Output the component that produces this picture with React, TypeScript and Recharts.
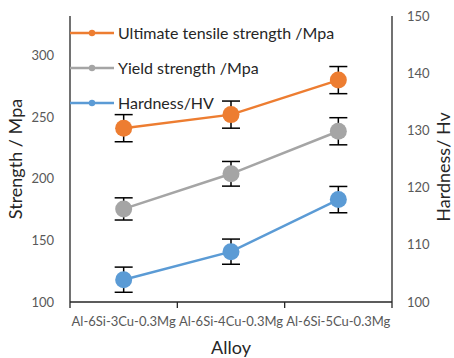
import React from 'react';
import { LineChart, Line, XAxis, YAxis, ErrorBar } from 'recharts';

const alloys = ['Al-6Si-3Cu-0.3Mg', 'Al-6Si-4Cu-0.3Mg', 'Al-6Si-5Cu-0.3Mg'];
const utsValues = [241, 252, 280];
const utsErrors = [11, 11, 11];
const yieldValues = [175.5, 204, 238.5];
const yieldErrors = [9, 10, 11];
const hardnessValues = [103.9, 108.8, 117.9];
const hardnessErrors = [2.2, 2.2, 2.3];

const strengthTicks = [100, 150, 200, 250, 300];
const hardnessTicks = [100, 110, 120, 130, 140, 150];

const seriesNames = ['Ultimate tensile strength /Mpa', 'Yield strength /Mpa', 'Hardness/HV'];
const seriesColors = ['#ED7D31', '#A5A5A5', '#5B9BD5'];

const data = alloys.map((alloy, i) => ({
  alloy,
  uts: utsValues[i],
  utsErr: utsErrors[i],
  ys: yieldValues[i],
  ysErr: yieldErrors[i],
  hv: hardnessValues[i],
  hvErr: hardnessErrors[i],
}));

const FONT = 'Lato, "Open Sans", sans-serif';
const AXIS = '#262626';
const TICK = '#595959';
const CAT_TICK_MARGIN = 15;

const tickStyle = { fontSize: 13, fill: TICK, fontFamily: FONT };

function CategoryTick(props: any) {
  const { x, y, payload, index, visibleTicksCount } = props;
  const axisY = y - CAT_TICK_MARGIN;
  const half = payload && typeof payload.offset === 'number' ? payload.offset : 0;
  const isLast = index === visibleTicksCount - 1;
  return (
    <g>
      <line x1={x - half} x2={x - half} y1={axisY} y2={axisY + 6} stroke={AXIS} strokeWidth={1.3} />
      {isLast && <line x1={x + half} x2={x + half} y1={axisY} y2={axisY + 6} stroke={AXIS} strokeWidth={1.3} />}
      <text x={x} y={y} dy="0.71em" textAnchor="middle" fontSize={13} fill={TICK} fontFamily={FONT}>
        {payload.value}
      </text>
    </g>
  );
}

export default function App() {
  return (
    <div style={{ position: 'absolute', left: 0, top: 0, width: 454, height: 358, background: '#fff' }}>
      <LineChart width={454} height={358} data={data} margin={{ top: 16, right: 0, bottom: 0, left: 10 }}>
        <XAxis
          xAxisId="cat"
          dataKey="alloy"
          scale="band"
          interval={0}
          height={56}
          axisLine={{ stroke: AXIS, strokeWidth: 1.3 }}
          tickLine={false}
          tickSize={0}
          tickMargin={CAT_TICK_MARGIN}
          tick={CategoryTick}
          label={{ value: 'Alloy', position: 'insideBottom', offset: 4, fontSize: 18, fill: AXIS, fontFamily: FONT }}
        />
        <XAxis
          xAxisId="top"
          orientation="top"
          type="number"
          domain={[0, 1]}
          height={0}
          tick={false}
          tickLine={false}
          axisLine={{ stroke: AXIS, strokeWidth: 1.3 }}
          allowDataOverflow
        />
        <YAxis
          yAxisId="left"
          width={60}
          domain={[100, 332]}
          ticks={strengthTicks}
          allowDataOverflow
          tickLine={false}
          tickSize={0}
          tickMargin={16}
          tick={tickStyle}
          axisLine={{ stroke: AXIS, strokeWidth: 1.3 }}
          label={{ value: 'Strength / Mpa', angle: -90, position: 'center', dx: -24, fontSize: 18, fill: AXIS, fontFamily: FONT }}
        />
        <YAxis
          yAxisId="right"
          orientation="right"
          width={62}
          domain={[100, 150]}
          ticks={hardnessTicks}
          allowDataOverflow
          tickLine={false}
          tickSize={0}
          tickMargin={15}
          tick={tickStyle}
          axisLine={{ stroke: AXIS, strokeWidth: 1.3 }}
          label={{ value: 'Hardness/ Hv', angle: -90, position: 'center', dx: 21, dy: 8, fontSize: 18, fill: AXIS, fontFamily: FONT }}
        />
        <Line
          xAxisId="cat"
          yAxisId="left"
          dataKey="uts"
          stroke={seriesColors[0]}
          strokeWidth={2.5}
          dot={{ r: 8.5, fill: seriesColors[0], stroke: 'none' }}
          isAnimationActive={false}
        >
          <ErrorBar dataKey="utsErr" width={9} stroke="#000" strokeWidth={1.5} direction="y" />
        </Line>
        <Line
          xAxisId="cat"
          yAxisId="left"
          dataKey="ys"
          stroke={seriesColors[1]}
          strokeWidth={2.5}
          dot={{ r: 8.5, fill: seriesColors[1], stroke: 'none' }}
          isAnimationActive={false}
        >
          <ErrorBar dataKey="ysErr" width={9} stroke="#000" strokeWidth={1.5} direction="y" />
        </Line>
        <Line
          xAxisId="cat"
          yAxisId="right"
          dataKey="hv"
          stroke={seriesColors[2]}
          strokeWidth={2.5}
          dot={{ r: 8.5, fill: seriesColors[2], stroke: 'none' }}
          isAnimationActive={false}
        >
          <ErrorBar dataKey="hvErr" width={9} stroke="#000" strokeWidth={1.5} direction="y" />
        </Line>
      </LineChart>
      <div style={{ position: 'absolute', left: 70, top: 15, fontFamily: FONT, fontSize: 16, color: AXIS }}>
        {seriesNames.map((name, i) => (
          <div key={name} style={{ display: 'flex', alignItems: 'center', height: 35, whiteSpace: 'nowrap' }}>
            <svg width={46} height={10} style={{ marginRight: 2 }}>
              <line x1={0} y1={5} x2={44} y2={5} stroke={seriesColors[i]} strokeWidth={2.5} />
              <circle cx={22} cy={5} r={3.2} fill={seriesColors[i]} />
            </svg>
            <span>{name}</span>
          </div>
        ))}
      </div>
    </div>
  );
}
